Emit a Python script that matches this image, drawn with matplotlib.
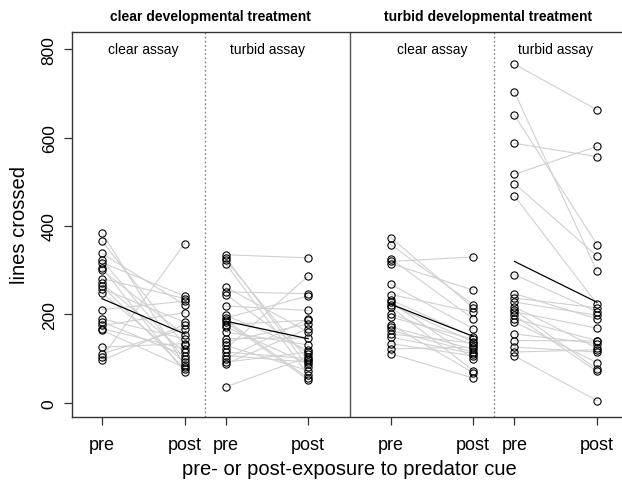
import matplotlib
matplotlib.use("Agg")
import matplotlib.pyplot as plt
import numpy as np

# ---- data ----
# x positions of the pre/post columns of each panel
x_pre = [1.0, 2.5, 4.5, 6.0]
x_post = [2.0, 3.5, 5.5, 7.0]
xtick_pos = [1.0, 2.0, 2.5, 3.5, 4.5, 5.5, 6.0, 7.0]
xtick_labels = ["pre", "post", "pre", "post", "pre", "post", "pre", "post"]
yticks = [0, 200, 400, 600, 800]

assay_labels = ["clear assay", "turbid assay", "clear assay", "turbid assay"]
dev_labels = ["clear developmental treatment", "turbid developmental treatment"]

# panel 1: clear development, clear assay
p1_pre = [385, 366, 338, 323, 317, 305, 300, 281, 270, 265, 258, 249, 211, 190,
          183, 175, 168, 164, 126, 111, 103, 96]
p1_post = [85, 130, 222, 100, 242, 70, 153, 236, 115, 77, 183, 92, 230, 145,
           107, 204, 122, 80, 134, 168, 360, 177]
# panel 2: clear development, turbid assay
p2_pre = [335, 328, 323, 315, 262, 251, 245, 219, 198, 192, 187, 183, 177, 172,
          160, 145, 138, 130, 122, 115, 107, 100, 92, 88, 36]
p2_post = [328, 81, 96, 63, 160, 247, 111, 209, 119, 242, 56, 52, 187, 88,
           131, 147, 179, 73, 287, 100, 92, 190, 115, 168, 104]
# panel 3: turbid development, clear assay
p3_pre = [374, 358, 326, 320, 315, 268, 245, 233, 228, 222, 217, 202, 194, 177,
          172, 164, 156, 149, 134, 122, 111]
p3_post = [215, 222, 190, 330, 255, 168, 206, 149, 100, 138, 73, 131, 144, 68,
           121, 115, 135, 111, 106, 126, 56]
# panel 4: turbid development, turbid assay
p4_pre = [766, 703, 651, 587, 517, 496, 468, 290, 247, 237, 228, 217, 210, 206,
          198, 190, 183, 156, 141, 126, 115, 106]
p4_post = [663, 298, 358, 557, 580, 332, 224, 206, 190, 215, 198, 124, 76, 169,
           71, 141, 91, 134, 140, 115, 120, 5]

pre_sets = [p1_pre, p2_pre, p3_pre, p4_pre]
post_sets = [p1_post, p2_post, p3_post, p4_post]

# ---- figure ----
W, H = 622, 489
fig = plt.figure(figsize=(W / 100, H / 100), dpi=100)
plt.rcParams['font.family'] = ['Liberation Sans', 'DejaVu Sans']

left, right, top, bottom = 72, 627, 32.5, 418
ax = fig.add_axes([left / W, 1 - bottom / H, (right - left) / W, (bottom - top) / H])
ax.set_xlim(0.636, 7.364)
ax.set_ylim(-32, 840)

grey = "#d0d0d0"
for xp, xq, pre, post in zip(x_pre, x_post, pre_sets, post_sets):
    for a, b in zip(pre, post):
        ax.plot([xp, xq], [a, b], color=grey, lw=0.8, zorder=1)
    ax.plot([xp] * len(pre), pre, 'o', mfc='none', mec='black', ms=5.2, mew=0.8, zorder=3)
    ax.plot([xq] * len(post), post, 'o', mfc='none', mec='black', ms=5.2, mew=0.8, zorder=3)
    ax.plot([xp, xq], [np.mean(pre), np.mean(post)], color='black', lw=0.9, zorder=2)

# dividers
ax.axvline(2.25, color='#808080', lw=1.0, ls=(0, (1.2, 1.8)), zorder=0)
ax.axvline(5.75, color='#808080', lw=1.0, ls=(0, (1.2, 1.8)), zorder=0)
ax.axvline(4.0, color='#555555', lw=1.0, zorder=0)

# assay labels
for xp, xq, lab in zip(x_pre, x_post, assay_labels):
    ax.text((xp + xq) / 2, 800, lab, ha='center', va='center', fontsize=10)

# developmental treatment titles
for cx, lab in zip([(0.636 + 4.0) / 2, (4.0 + 7.364) / 2], dev_labels):
    ax.annotate(lab, xy=(cx, 0), xycoords=('data', 'figure fraction'),
                xytext=(cx, 1 - 17 / H), textcoords=('data', 'figure fraction'),
                ha='center', va='center', fontsize=10, fontweight='bold')

# axes styling
for s in ax.spines.values():
    s.set_color('#333333')
    s.set_linewidth(1.0)
ax.set_xticks(xtick_pos)
ax.set_xticklabels(xtick_labels, fontsize=13)
ax.set_yticks(yticks)
ax.set_yticklabels([str(v) for v in yticks], fontsize=12.5, rotation=90, va='center')
ax.tick_params(axis='both', length=6, width=0.9, color='#333333', pad=8)
ax.tick_params(axis='y', pad=5)

fig.text(0.5 * (left + right) / W, 1 - 470 / H, "pre- or post-exposure to predator cue",
         ha='center', va='center', fontsize=14.5)
fig.text(20 / W, 1 - ((top + bottom) / 2) / H, "lines crossed", ha='center', va='center',
         rotation=90, fontsize=14.5)

fig.savefig("out.png", dpi=100)
